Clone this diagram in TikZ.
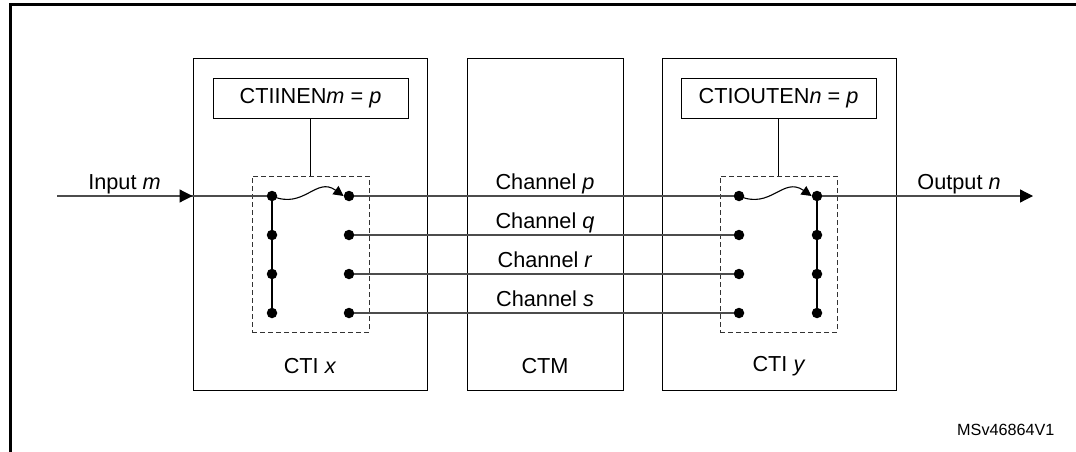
\documentclass[tikz,border=0pt]{standalone}
\usepackage{fontspec}
\setmainfont{Liberation Sans}
\usetikzlibrary{arrows.meta,calc,positioning}

\begin{document}
\begin{tikzpicture}[x=1pt,y=-1pt,>={Triangle[length=13pt,width=13pt,color=black]},
  font=\fontsize{21.7}{26}\selectfont,
  blk/.style={draw,line width=1pt,minimum width=234pt,minimum height=331pt,inner sep=0pt},
  enbox/.style={draw,line width=1pt,minimum width=195pt,minimum height=40pt,inner sep=0pt},
  swbox/.style={draw=black!80,dashed,dash pattern=on 5pt off 3pt,line width=1pt,
    minimum width=117pt,minimum height=156pt,inner sep=0pt},
  dot/.style={circle,fill,inner sep=0pt,minimum size=10.5pt},
  chan/.style={draw=black!70,line width=1.2pt},
  wire/.style={line width=1.1pt}]
  \useasboundingbox (0,0) rectangle (1076,452);
  % cadre
  \draw[line width=3pt] (1076,5) -- (10,5) -- (10,452);
  % blocs
  \node[blk] (ctix) at (310,224.5) {};
  \node[blk,minimum width=156pt] (ctm) at (545,224.5) {};
  \node[blk] (ctiy) at (779,224.5) {};
  \node (labx) at (310,366) {CTI \textit{x}};
  \node (labm) at (545,366) {CTM};
  \node (laby) at (779,366) {CTI \textit{y}};
  % registres
  \node[enbox] (enx) at (310.5,98) {CTIINEN\textit{m} = \textit{p}};
  \node[enbox] (eny) at (778.5,98) {CTIOUTEN\textit{n} = \textit{p}};
  \node[swbox] (swx) at (310.5,254) {};
  \node[swbox] (swy) at (778.5,254) {};
  \draw[wire] (enx.south) -- (swx.north);
  \draw[wire] (eny.south) -- (swy.north);
  % points
  \foreach \r/\yy in {1/196,2/235,3/274,4/313}{
    \node[dot] (xl\r) at (272,\yy) {};
    \node[dot] (xr\r) at (349,\yy) {};
    \node[dot] (yl\r) at (739,\yy) {};
    \node[dot] (yr\r) at (817,\yy) {};
  }
  \draw[wire] (xl1) -- (xl4);
  \draw[wire] (yr1) -- (yr4);
  % canaux
  \foreach \r/\ch in {1/p,2/q,3/r,4/s}{
    \draw[chan] (xr\r) -- (yl\r);
    \node[anchor=base] (ch\ch) at ($(ctm.center |- xr\r)+(0,-7)$) {Channel \textit{\ch}};
  }
  % entrée / sortie
  \coordinate (in) at (57,196);
  \coordinate (out) at (1033,196);
  \draw[chan] (in) -- (xl1);
  \draw[->,chan] (in) -- (in -| ctix.west);
  \node[anchor=base] (inlab) at (124.5,189) {Input \textit{m}};
  \draw[->,chan] (yr1) -- (out);
  \node[anchor=base] (outlab) at (959,189) {Output \textit{n}};
  % commutation
  \draw[wire,-{Triangle[length=10pt,width=10pt]}] (xl1.center)
    .. controls ($(xl1)+(32,14)$) and ($(xl1)+(44,-20)$) .. (xr1.west);
  \draw[wire,-{Triangle[length=10pt,width=10pt]}] (yl1.center)
    .. controls ($(yl1)+(32,14)$) and ($(yl1)+(44,-20)$) .. (yr1.west);
  \node[anchor=east,font=\fontsize{16.2}{19}\selectfont] (ref) at (1058,430) {MSv46864V1};
\end{tikzpicture}
\end{document}
